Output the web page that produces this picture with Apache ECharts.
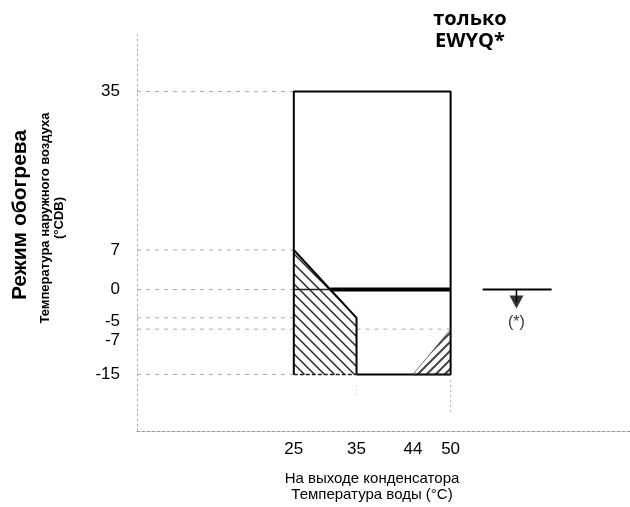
<!DOCTYPE html>
<html>
<head>
<meta charset="utf-8">
<script src="https://cdn.jsdelivr.net/npm/echarts@6/dist/echarts.min.js"></script>
<style>
  html, body { margin: 0; padding: 0; background: #fff; }
  #chart { width: 630px; height: 507px; }
</style>
</head>
<body>
<div id="chart"></div>
<script>
// Axis ticks
const xTicks = [25, 35, 44, 50];
const yTicks = [-15, -7, -5, 0, 7, 35];

// Operating envelope outline (water outlet temp, outdoor air temp)
const envelope = [[35, -15], [50, -15], [50, 35], [25, 35], [25, -15]];
// Lower-left restricted zone
const zoneLeft = [[25, 7], [35, -5], [35, -15], [25, -15]];
// Lower-right restricted zone
const zoneRight = [[44, -15], [50, -15], [50, -7]];
// Limit at 0 °C
const zeroLimitStart = 30.83;
const zeroLimitEnd = 50;
// Reference marker on the right: bar, arrow and note
const markerBar = [[55.1, 0], [66.1, 0]];
const markerX = 60.5;
const markerArrowY = -2.2;
const markerNoteY = -5.8;

const X_MIN = 0, X_MAX = 78.6, Y_MIN = -25, Y_MAX = 45;

function hatch(size, dir, width, color) {
  const c = document.createElement('canvas');
  c.width = size; c.height = size;
  const g = c.getContext('2d');
  g.strokeStyle = color; g.lineWidth = width; g.lineCap = 'square';
  g.beginPath();
  for (let k = -1; k <= 1; k++) {
    if (dir === 'back') {
      g.moveTo(k * size, 0); g.lineTo(k * size + size, size);
    } else {
      g.moveTo(k * size, size); g.lineTo(k * size + size, 0);
    }
  }
  g.stroke();
  return { image: c, repeat: 'repeat' };
}

function polySeries(points, fill) {
  return {
    type: 'custom',
    silent: true,
    data: [0],
    z: 1,
    renderItem: function (params, api) {
      return {
        type: 'polygon',
        shape: { points: points.map(p => api.coord(p)) },
        style: { fill: fill, stroke: null }
      };
    }
  };
}

function seg(data, width, type, color, z) {
  return {
    type: 'line',
    data: data,
    symbol: 'none',
    silent: true,
    z: z || 3,
    lineStyle: { color: color || '#000', width: width, type: type || 'solid' },
    animation: false
  };
}

const series = [];

// gridlines from the vertical axis to the envelope
yTicks.forEach(v => {
  series.push(seg([[X_MIN, v], [25, v]], 1, [4, 5], '#aaa', 2));
});
series.push(seg([[35, -7], [50, -7]], 1, [4, 5], '#aaa', 2));
// faint verticals below the envelope
series.push(seg([[35, -17], [35, -19]], 1, [1, 3], '#bbb', 2));
series.push(seg([[50, -16], [50, -22]], 1, [2, 3], '#aaa', 2));

// hatched zones
series.push(polySeries(zoneLeft, hatch(10, 'back', 1.5, '#2a2a2a')));
series.push(polySeries(zoneRight, hatch(9, 'fwd', 2, '#444')));

// envelope outline
series.push(seg(envelope, 2, 'solid', '#000', 4));
series.push(seg([[25, 7], [35, -5], [35, -15]], 2, 'solid', '#000', 4));
series.push(seg([[25, -15], [35, -15]], 1.5, [4, 2], '#222', 4));
series.push(seg([[44, -15], [50, -15]], 1.5, [4, 2], '#222', 4));
series.push(seg([zoneRight[0], zoneRight[2]], 0.8, 'solid', '#555', 4));

// 0 °C limit
series.push(seg([[25, 0], [zeroLimitStart, 0]], 1.5, 'solid', '#222', 4));
series.push(seg([[zeroLimitStart, 0], [zeroLimitEnd, 0]], 4, 'solid', '#000', 5));

// marker on the right
series.push(seg(markerBar, 2, 'solid', '#000', 4));
series.push(seg([[markerX, 0], [markerX, markerArrowY]], 1.5, 'solid', '#000', 4));
series.push({
  type: 'scatter',
  silent: true,
  z: 5,
  symbol: 'triangle',
  symbolRotate: 180,
  symbolSize: [14, 13],
  itemStyle: { color: '#000' },
  data: [[markerX, markerArrowY]],
  animation: false
});
series.push({
  type: 'scatter',
  silent: true,
  z: 5,
  symbolSize: 0,
  data: [[markerX, markerNoteY]],
  label: {
    show: true, position: 'inside', formatter: '(*)',
    color: '#000', fontSize: 16, fontFamily: 'Liberation Sans'
  },
  animation: false
});

const chart = echarts.init(document.getElementById('chart'), null, { renderer: 'canvas' });
chart.setOption({
  animation: false,
  backgroundColor: '#fff',
  grid: { left: 137, right: 0, top: 35, height: 396, containLabel: false },
  xAxis: {
    type: 'value', min: X_MIN, max: X_MAX,
    axisLine: { show: true, onZero: false, lineStyle: { color: '#999', width: 1, type: [3, 2] } },
    axisTick: { show: false },
    splitLine: { show: false },
    axisLabel: {
      customValues: xTicks, margin: 10,
      color: '#000', fontSize: 17, fontFamily: 'Liberation Sans'
    }
  },
  yAxis: {
    type: 'value', min: Y_MIN, max: Y_MAX,
    axisLine: { show: true, onZero: false, lineStyle: { color: '#aaa', width: 1, type: [2, 3] } },
    axisTick: { show: false },
    splitLine: { show: false },
    axisLabel: {
      customValues: yTicks, margin: 17,
      color: '#000', fontSize: 17, fontFamily: 'Liberation Sans',
      formatter: function (v) {
        if (v === -7) return '{lo|-7}';
        if (v === -5) return '{mid|-5}';
        return String(v);
      },
      rich: {
        lo: { fontSize: 17, fontFamily: 'Liberation Sans', color: '#000', padding: [22, 0, 0, 0] },
        mid: { fontSize: 17, fontFamily: 'Liberation Sans', color: '#000', padding: [6, 0, 0, 0] }
      }
    }
  },
  graphic: [
    {
      type: 'text', x: 470, y: 30,
      style: {
        text: 'только\nEWYQ*', fill: '#000',
        font: 'bold 20px "Open Sans"', lineHeight: 22,
        align: 'center', verticalAlign: 'middle'
      }
    },
    {
      type: 'text', x: 20, y: 215, rotation: Math.PI / 2,
      style: {
        text: 'Режим обогрева', fill: '#000',
        font: 'bold 21px "Liberation Sans"', align: 'center', verticalAlign: 'middle'
      }
    },
    {
      type: 'text', x: 52, y: 218, rotation: Math.PI / 2,
      style: {
        text: 'Температура наружного воздуха\n(°CDB)', fill: '#000',
        font: 'bold 13px "Liberation Sans"', lineHeight: 14,
        align: 'center', verticalAlign: 'middle'
      }
    },
    {
      type: 'text', x: 372, y: 487,
      style: {
        text: 'На выходе конденсатора\nТемпература воды (°C)', fill: '#000',
        font: '15px "Liberation Sans"', lineHeight: 16,
        align: 'center', verticalAlign: 'middle'
      }
    }
  ],
  series: series
});
</script>
</body>
</html>
